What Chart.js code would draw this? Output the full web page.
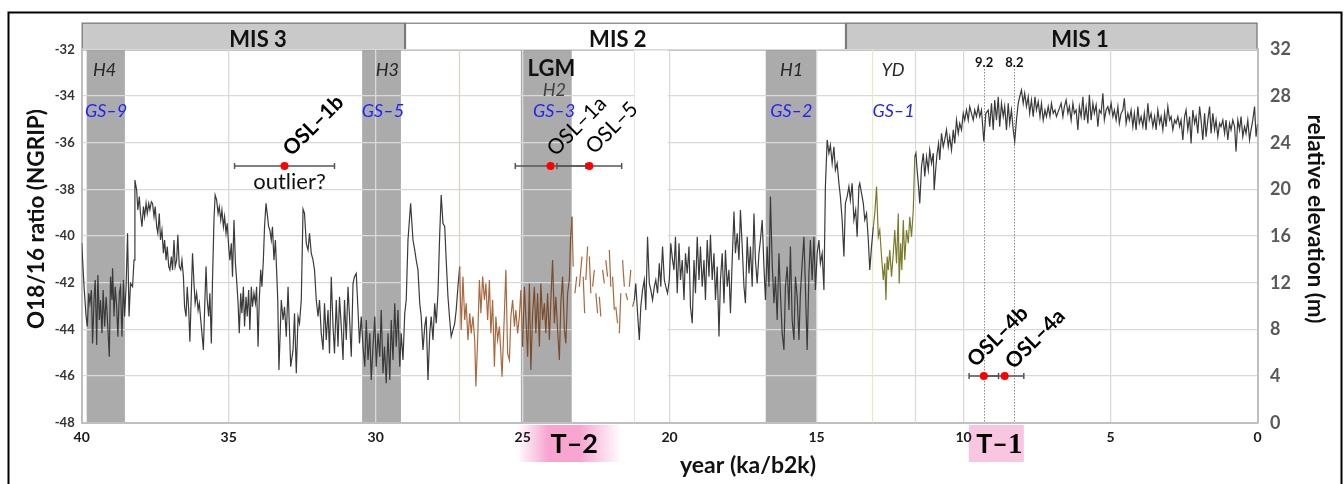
<!DOCTYPE html>
<html><head><meta charset="utf-8">
<script src="https://cdn.jsdelivr.net/npm/chart.js@4.4.1/dist/chart.umd.min.js"></script>
<style>html,body{margin:0;padding:0;background:#fff;overflow:hidden}canvas{display:block}</style>
</head><body>
<canvas id="c" width="1344" height="484"></canvas>
<script>
// NGRIP d18O record: [age ka b2k, d18O permil]
const ngripRecord = [
[40.00,-40.3],[39.92,-42.17],[39.85,-43.45],[39.81,-43.88],[39.76,-42.45],[39.72,-42.88],[39.67,-42.31],[39.63,-44.60],[39.58,-42.74],[39.54,-41.88],[39.49,-44.67],[39.45,-41.67],[39.40,-43.60],[39.36,-42.74],[39.31,-44.17],[39.27,-42.31],[39.22,-43.88],[39.17,-42.60],[39.13,-43.45],[39.06,-45.17],[39.02,-41.74],[38.97,-42.74],[38.95,-41.38],[38.90,-43.45],[38.86,-42.17],[38.81,-43.03],[38.77,-44.31],[38.72,-42.45],[38.68,-42.17],[38.63,-44.31],[38.58,-41.88],[38.54,-43.45],[38.49,-42.17],[38.44,-39.88],[38.39,-43.45],[38.34,-42.03],[38.27,-42.17],[38.22,-41.03],
[38.19,-37.60],[38.13,-38.03],[38.09,-38.88],[38.04,-38.31],[38.00,-39.03],[37.95,-39.60],[37.90,-38.74],[37.86,-39.17],[37.81,-38.60],[37.77,-39.03],[37.72,-38.60],[37.68,-38.88],[37.63,-38.53],[37.59,-38.60],[37.54,-39.17],[37.50,-38.74],[37.45,-39.60],[37.41,-39.88],[37.36,-39.03],[37.32,-40.17],[37.27,-39.74],[37.22,-40.74],[37.18,-40.17],[37.13,-41.03],[37.09,-40.45],[37.04,-41.31],[37.00,-41.45],[36.95,-40.88],[36.91,-41.45],[36.86,-40.17],[36.82,-41.31],[36.77,-41.03],[36.73,-39.95],[36.68,-41.31],[36.63,-41.45],[36.59,-41.03],[36.54,-41.74],[36.50,-43.03],[36.45,-43.45],[36.41,-42.17],[36.36,-43.17],[36.32,-44.53],[36.27,-42.45],[36.23,-40.74],[36.18,-42.03],[36.14,-42.88],[36.09,-42.45],[36.04,-43.17],[36.00,-42.88],[35.95,-43.60],[35.91,-44.17],[35.86,-44.88],[35.82,-43.17],[35.77,-41.31],[35.73,-42.74],[35.68,-43.45],[35.64,-42.45],[35.59,-44.60],[35.55,-41.88],
[35.50,-39.31],[35.46,-38.24],[35.41,-38.45],[35.36,-39.03],[35.32,-38.74],[35.27,-39.31],[35.23,-38.88],[35.18,-39.60],[35.14,-39.17],[35.09,-39.88],[35.05,-39.45],[35.00,-40.45],[34.96,-41.03],[34.91,-40.31],[34.87,-41.74],[34.82,-39.31],[34.77,-41.17],[34.73,-41.88],[34.68,-42.88],[34.64,-44.17],[34.59,-42.45],[34.55,-43.31],[34.50,-42.17],[34.46,-43.88],[34.41,-42.60],[34.37,-43.45],[34.32,-42.31],[34.28,-44.03],[34.23,-42.17],[34.19,-43.03],[34.14,-42.45],[34.09,-42.88],[34.05,-42.17],[34.00,-44.74],[33.96,-42.74],[33.91,-41.45],[33.87,-42.17],[33.82,-41.03],
[33.78,-39.60],[33.73,-38.60],[33.69,-39.03],[33.64,-39.60],[33.60,-39.74],[33.55,-40.17],[33.51,-39.60],[33.46,-41.03],[33.41,-40.17],[33.37,-41.45],[33.33,-42.74],
[33.29,-45.74],[33.21,-42.74],[33.15,-43.60],[33.10,-43.03],[33.04,-44.31],[32.98,-42.17],[32.89,-45.60],[32.81,-44.88],[32.76,-43.31],[32.70,-45.88],[32.64,-43.45],[32.59,-43.74],[32.53,-42.74],
[32.47,-38.85],[32.42,-39.03],[32.36,-40.31],[32.30,-40.60],[32.25,-39.88],[32.19,-40.74],[32.13,-41.03],[32.08,-41.45],[32.02,-42.74],[31.96,-43.45],[31.91,-42.74],[31.85,-44.17],[31.79,-44.88],[31.74,-42.88],[31.68,-44.45],[31.62,-43.17],[31.57,-45.03],[31.51,-41.74],[31.45,-43.88],[31.40,-45.03],[31.34,-42.74],[31.28,-44.74],[31.23,-42.60],[31.17,-43.88],[31.11,-45.31],[31.06,-42.74],[31.00,-44.45],[30.94,-42.17],[30.89,-43.45],[30.83,-45.17],[30.77,-42.03],[30.72,-41.74],[30.66,-41.60],[30.60,-43.17],[30.55,-44.60],[30.49,-43.45],[30.43,-44.74],[30.37,-45.60],[30.32,-43.60],[30.26,-45.31],[30.20,-44.17],[30.15,-46.17],[30.09,-44.74],[30.03,-43.45],[29.98,-45.60],[29.92,-44.17],[29.86,-45.17],[29.81,-43.17],[29.75,-45.88],[29.70,-44.74],[29.64,-46.31],[29.58,-44.17],[29.52,-46.17],[29.47,-43.60],[29.41,-45.31],[29.35,-42.88],[29.30,-44.74],[29.24,-43.17],[29.18,-45.60],[29.13,-44.17],[29.07,-45.31],[29.01,-43.31],[28.96,-42.74],
[28.90,-40.17],[28.81,-38.60],[28.73,-40.17],[28.67,-40.60],[28.62,-41.03],[28.56,-41.45],[28.50,-42.88],[28.45,-43.45],[28.39,-44.88],[28.33,-43.88],[28.28,-43.45],[28.22,-46.17],[28.16,-44.17],[28.11,-43.45],[28.05,-44.45],[27.99,-42.88],[27.94,-43.74],[27.88,-42.45],
[27.82,-39.88],[27.77,-38.24],[27.71,-39.45],[27.65,-39.60],[27.60,-41.03],[27.54,-42.60],[27.48,-43.60],[27.43,-44.31],[27.37,-44.03],[27.31,-43.74],[27.26,-43.17],[27.20,-42.17],[27.14,-41.31],[27.09,-44.03],[27.03,-41.74],[26.97,-43.60],[26.92,-42.88],[26.86,-44.45],[26.80,-43.31],[26.75,-44.17],[26.69,-43.45],[26.63,-44.45],
[26.59,-46.45],[26.53,-44.45],[26.47,-41.88],[26.42,-43.31],[26.36,-41.74],[26.30,-42.74],[26.25,-42.03],[26.19,-43.60],[26.13,-41.88],[26.08,-44.17],[26.02,-42.74],[25.96,-45.60],[25.91,-43.45],[25.85,-44.45],[25.79,-43.88],[25.74,-45.03],[25.70,-46.03],[25.62,-43.31],[25.57,-41.45],[25.51,-45.03],[25.45,-45.31],[25.40,-43.45],[25.34,-42.74],[25.28,-43.88],[25.23,-43.17],[25.17,-44.17],[25.11,-43.45],[25.06,-42.31],[25.00,-44.74],[24.94,-42.17],[24.89,-43.45],[24.83,-45.17],[24.77,-42.03],[24.72,-45.74],[24.66,-43.31],[24.60,-42.17],[24.55,-44.17],[24.49,-42.45],[24.43,-44.74],[24.38,-42.03],[24.32,-43.60],[24.26,-42.88],[24.21,-44.17],[24.15,-42.45],[24.09,-44.45],[24.04,-42.74],[23.98,-41.03],[23.92,-43.74],[23.87,-42.60],[23.81,-44.03],[23.75,-45.31],[23.70,-42.88],[23.64,-41.74],[23.58,-44.03],[23.53,-44.60],[23.47,-42.45],[23.41,-41.88],[23.37,-40.17],[23.32,-39.17],
[23.28,-41.31],[23.22,-42.45],[23.16,-41.74],[23.07,-42.17],[22.98,-40.88],[22.94,-41.74],[22.89,-43.31],[22.85,-41.88],[22.79,-40.45],[22.73,-40.88],[22.68,-42.45],[22.62,-42.17],[22.56,-41.45],[22.51,-42.45],[22.45,-43.31],[22.39,-42.60],[22.34,-43.45],[22.28,-41.45],[22.22,-42.03],[22.17,-41.03],[22.11,-41.74],[22.05,-40.60],[22.00,-42.17],[21.94,-41.74],[21.88,-43.17],[21.83,-43.03],[21.77,-43.74],[21.71,-44.17],[21.66,-42.45],[21.60,-41.03],[21.54,-42.17],[21.49,-42.45],[21.43,-42.74],[21.37,-42.17],[21.32,-41.45],[21.26,-43.03],
[21.20,-42.74],[21.15,-42.03],[21.09,-43.31],[21.03,-44.45],[20.98,-43.03],[20.92,-42.31],[20.86,-41.88],[20.81,-43.17],[20.75,-40.03],[20.69,-42.03],[20.64,-42.31],[20.58,-42.74],[20.52,-42.17],[20.47,-41.88],[20.41,-42.45],[20.35,-41.17],[20.30,-42.17],[20.24,-40.45],[20.18,-41.88],[20.13,-42.17],[20.07,-42.45],[20.01,-41.88],[19.96,-40.31],[19.90,-41.03],
[19.85,-41.45],[19.80,-40.03],[19.74,-42.45],[19.68,-40.31],[19.63,-41.88],[19.57,-41.03],[19.51,-42.74],[19.46,-40.74],[19.40,-41.60],[19.34,-40.45],[19.29,-43.03],[19.23,-43.74],[19.17,-41.03],[19.12,-42.45],[19.06,-40.03],[19.00,-41.88],[18.95,-40.45],[18.89,-42.17],[18.83,-41.03],[18.78,-42.74],[18.72,-40.17],[18.66,-41.74],[18.61,-39.95],[18.55,-41.88],[18.49,-40.74],[18.44,-42.74],[18.38,-41.31],[18.32,-44.31],[18.27,-41.88],[18.21,-40.74],[18.15,-42.88],[18.10,-40.60],[18.04,-42.17],[17.98,-41.45],[17.93,-43.31],[17.87,-41.03],[17.81,-38.95],[17.76,-40.74],[17.70,-39.88],[17.64,-41.03],[17.59,-38.88],[17.53,-40.45],[17.47,-42.17],[17.42,-42.88],[17.36,-40.03],[17.30,-41.60],[17.25,-40.45],[17.19,-42.17],[17.13,-39.03],[17.08,-41.03],[17.02,-42.03],[16.96,-40.74],[16.91,-40.17],[16.85,-39.31],[16.79,-41.31],[16.74,-42.74],[16.68,-40.45],[16.62,-42.17],[16.57,-38.31],[16.51,-41.17],[16.45,-42.88],[16.40,-41.74],[16.34,-43.60],[16.28,-40.74],[16.23,-42.45],[16.17,-44.17],[16.11,-44.88],[16.06,-42.17],[16.00,-41.31],[15.94,-43.17],[15.89,-40.45],[15.83,-43.60],[15.77,-44.45],[15.72,-41.74],[15.66,-42.60],[15.60,-44.45],[15.55,-42.45],[15.49,-41.17],[15.43,-40.03],[15.38,-42.17],[15.32,-44.88],[15.26,-41.60],[15.21,-40.17],[15.15,-41.88],[15.09,-40.03],[15.04,-42.31],[14.98,-40.74],[14.92,-40.17],[14.87,-41.17],[14.81,-40.74],[14.75,-42.31],
[14.70,-37.88],[14.64,-35.88],[14.58,-36.45],[14.53,-36.10],[14.47,-36.88],[14.41,-36.17],[14.36,-37.17],[14.30,-36.88],[14.24,-37.74],[14.19,-38.31],[14.13,-39.31],[14.07,-40.88],[14.02,-38.60],[13.96,-38.31],[13.90,-37.88],[13.85,-38.45],[13.79,-37.74],[13.73,-39.31],[13.67,-38.88],[13.62,-40.03],[13.56,-37.88],
[13.53,-37.74],[13.47,-38.17],[13.41,-38.60],[13.36,-39.31],[13.30,-39.03],[13.24,-40.17],[13.19,-41.45],[13.13,-40.45],[13.07,-39.60],[13.02,-39.03],[12.96,-37.88],[12.90,-40.03],[12.85,-39.74],[12.79,-40.88],[12.73,-41.88],[12.68,-41.17],[12.64,-42.74],[12.60,-40.88],[12.56,-41.45],[12.51,-40.60],[12.45,-41.74],[12.39,-40.74],[12.34,-39.74],[12.28,-41.17],[12.22,-39.03],[12.19,-42.03],[12.14,-40.31],[12.10,-41.45],[12.05,-39.31],[12.00,-41.03],[11.94,-39.74],[11.88,-40.31],[11.83,-39.17],[11.77,-40.03],[11.71,-38.88],
[11.66,-36.60],[11.62,-36.45],[11.58,-37.17],[11.53,-37.88],[11.49,-38.60],[11.43,-37.03],[11.37,-36.45],[11.32,-37.45],[11.26,-36.60],[11.20,-37.17],[11.15,-36.31],[11.09,-36.88],[11.03,-36.45],[11.00,-38.03],[10.94,-37.03],[10.90,-36.45],[10.85,-36.03],[10.81,-36.74],[10.75,-35.60],[10.69,-36.17],[10.64,-35.88],[10.58,-35.45],[10.52,-36.17],[10.47,-35.74],[10.41,-36.31],[10.35,-35.45],[10.30,-36.03],[10.24,-35.03],[10.18,-35.60],[10.13,-35.17],[10.07,-35.45],[10.01,-34.74],[9.96,-35.03],[9.90,-34.60],[9.84,-35.03],[9.79,-34.45],[9.73,-34.74],[9.67,-35.03],[9.62,-34.60],[9.56,-34.88],[9.50,-34.45],[9.45,-34.88],[9.39,-34.60],[9.31,-35.95],[9.24,-34.74],[9.16,-34.60],[9.11,-35.31],[9.05,-34.31],[8.99,-35.45],[8.94,-34.17],[8.88,-35.03],[8.82,-34.03],[8.77,-35.31],[8.71,-34.31],[8.65,-34.88],[8.60,-34.45],[8.54,-35.45],[8.48,-34.31],[8.43,-35.17],[8.37,-34.60],[8.31,-35.45],[8.26,-35.95],[8.20,-35.03],[8.14,-34.31],[8.09,-34.03],[8.03,-33.74],[7.97,-34.31],[7.92,-33.88],[7.86,-34.45],[7.80,-34.03],[7.75,-34.74],[7.69,-34.17],[7.63,-34.88],[7.57,-34.03],[7.52,-34.60],[7.46,-34.24],[7.40,-34.88],[7.35,-34.31],[7.29,-35.03],[7.23,-34.60],[7.18,-34.88],[7.12,-34.45],[7.06,-34.88],[7.01,-34.31],[6.95,-34.74],[6.89,-34.60],[6.84,-34.88],
[6.68,-34.31],[6.62,-34.88],[6.57,-34.45],[6.51,-34.17],[6.45,-34.74],[6.40,-34.45],[6.34,-35.03],[6.28,-34.31],[6.23,-34.74],[6.17,-34.60],[6.11,-35.45],[6.06,-34.45],[6.00,-34.88],[5.94,-34.03],[5.89,-35.03],[5.83,-34.45],[5.77,-35.17],[5.72,-33.95],[5.66,-35.03],[5.60,-34.31],[5.55,-34.74],[5.49,-34.38],[5.43,-35.31],[5.38,-34.60],[5.32,-34.74],[5.26,-33.88],[5.21,-35.03],[5.15,-34.60],[5.09,-34.45],[5.04,-34.74],[4.98,-34.31],[4.92,-34.88],[4.87,-34.60],[4.81,-35.03],[4.75,-34.45],[4.70,-35.17],[4.64,-34.74],[4.58,-34.60],[4.53,-34.10],[4.47,-35.17],[4.41,-34.74],[4.36,-35.03],[4.30,-34.60],[4.24,-35.31],[4.19,-34.74],[4.13,-35.45],[4.07,-34.45],[4.02,-35.17],[3.96,-34.88],[3.90,-35.31],[3.85,-34.74],[3.79,-35.45],[3.73,-34.31],[3.68,-35.03],[3.62,-34.74],[3.56,-35.31],[3.50,-34.88],[3.45,-35.45],[3.39,-34.60],[3.33,-35.17],[3.28,-34.88],[3.22,-35.45],[3.16,-34.74],[3.11,-35.31],[3.05,-34.45],[2.99,-35.03],[2.94,-34.88],[2.88,-35.45],[2.82,-35.03],[2.77,-35.17],[2.71,-34.88],[2.65,-35.31],[2.60,-35.03],[2.54,-35.88],[2.48,-34.88],[2.43,-34.60],[2.37,-35.45],[2.31,-34.88],[2.26,-36.03],[2.20,-34.60],[2.14,-35.17],[2.09,-34.88],[2.03,-35.60],[1.97,-34.45],[1.92,-35.03],[1.86,-35.88],[1.80,-34.74],[1.75,-35.74],[1.69,-35.03],[1.63,-34.45],[1.58,-35.60],[1.52,-34.74],[1.46,-35.45],[1.41,-35.03],[1.35,-35.74],[1.29,-35.17],[1.24,-35.31],[1.18,-35.03],[1.12,-35.60],[1.07,-35.03],[1.01,-35.88],[0.95,-35.17],[0.90,-35.45],[0.84,-35.03],[0.78,-35.31],[0.73,-36.38],[0.67,-35.03],[0.61,-35.45],[0.56,-34.88],[0.50,-35.74],[0.44,-35.31],[0.39,-35.60],[0.33,-35.03],[0.27,-35.88],[0.22,-35.45],[0.16,-35.03],[0.10,-34.45],[0.05,-35.74],[0.00,-35.2]
];

// Heinrich / Greenland stadial bands (ka)
const heinrichBands = [[39.83,38.53],[30.46,29.14],[25.06,23.33],[16.73,15.0]];
const heinrichNames = ['H4','H3','H2','H1'];
const stadialNames = ['GS–9','GS–5','GS–3','GS–2'];
const youngerDryas = [13.1, 11.65];
// Marine isotope stages
const misNames = ['MIS 3','MIS 2','MIS 1'];
const misBounds = [[40,29],[29,14],[14,0]];
// OSL dates
const oslNames = ['OSL–1b','OSL–1a','OSL–5','OSL–4b','OSL–4a'];
const oslAge = [33.1, 24.05, 22.73, 9.31, 8.6];
const oslErr = [1.7, 1.2, 1.1, 0.5, 0.65];
const oslElevation = [22, 22, 22, 4, 4];
// cold events
const eventAges = [9.3, 8.27];
const eventNames = ['9.2','8.2'];
// terminations
const termNames = ['T–2','T–1'];
const termBounds = [[25.2,21.63],[9.82,7.95]];

const FONT = 'Lato, "Open Sans", sans-serif';
Chart.defaults.font.family = FONT;

function font(w, s, it){ return (it?'italic ':'') + w + ' ' + s + 'px ' + FONT; }

const deco = {
  id: 'deco',
  beforeDraw(chart) {
    const {ctx, chartArea: ca, scales: {x}} = chart;
    ctx.save();
    ctx.fillStyle = '#fff';
    ctx.fillRect(0, 0, chart.width, chart.height);
    ctx.fillStyle = '#ababab';
    heinrichBands.forEach(([a,b]) => {
      const x0 = x.getPixelForValue(a), x1 = x.getPixelForValue(b);
      ctx.fillRect(x0, ca.top, x1 - x0, ca.bottom - ca.top);
    });
    const barTop = 22.7;
    misBounds.forEach(([a,b], i) => {
      const x0 = x.getPixelForValue(a), x1 = x.getPixelForValue(b);
      ctx.fillStyle = i === 1 ? '#ffffff' : '#c9c9c9';
      ctx.fillRect(x0, barTop, x1 - x0, ca.top - barTop + 0.6);
      ctx.strokeStyle = '#7a7a7a'; ctx.lineWidth = 1.2;
      ctx.strokeRect(x0 + 0.5, barTop + 0.5, x1 - x0 - 1, ca.top - barTop);
    });
    termBounds.forEach(([a,b], i) => {
      const x0 = x.getPixelForValue(a), x1 = x.getPixelForValue(b);
      const y0 = ca.bottom + 2.3, h = 37;
      if (i === 0) {
        const g = ctx.createLinearGradient(x0, 0, x1, 0);
        g.addColorStop(0, 'rgba(247,160,206,0)');
        g.addColorStop(0.3, 'rgba(247,160,206,0.95)');
        g.addColorStop(0.6, 'rgba(247,160,206,0.95)');
        g.addColorStop(1, 'rgba(247,160,206,0)');
        ctx.fillStyle = g;
      } else {
        ctx.fillStyle = '#f9c6e1';
      }
      ctx.fillRect(x0, y0, x1 - x0, h);
    });
    ctx.restore();
  },
  beforeDatasetsDraw(chart) {
    const {ctx, chartArea: ca, scales: {x, y}} = chart;
    ctx.save();
    // pasted-image white patches
    ctx.fillStyle = '#fff';
    const p0 = x.getPixelForValue(23.33), p1 = x.getPixelForValue(20.03);
    ctx.fillRect(p0 + 0.5, y.getPixelForValue(-34.6), p1 - p0 - 1.5, y.getPixelForValue(-47.95) - y.getPixelForValue(-34.6));
    const q0 = x.getPixelForValue(21.2);
    ctx.fillRect(q0, ca.top + 1, p1 - q0 - 1, y.getPixelForValue(-34.6) - ca.top);
    // faint image edge lines
    [[27.15,'#e3cfc2'],[21.2,'#e6e6e6'],[youngerDryas[0],'#e9e9c4'],[youngerDryas[1],'#d9d9d9']].forEach(([a,c]) => {
      const px = Math.round(x.getPixelForValue(a)) + 0.5;
      ctx.strokeStyle = c; ctx.lineWidth = 1.2;
      ctx.beginPath(); ctx.moveTo(px, ca.top); ctx.lineTo(px, ca.bottom); ctx.stroke();
    });
    // cold events dotted
    ctx.strokeStyle = '#8c8c8c'; ctx.lineWidth = 1; ctx.setLineDash([1.5, 1.5]);
    eventAges.forEach(a => {
      const px = Math.round(x.getPixelForValue(a)) + 0.5;
      ctx.beginPath(); ctx.moveTo(px, 69); ctx.lineTo(px, ca.bottom); ctx.stroke();
    });
    ctx.restore();
  },
  beforeDatasetDraw(chart, args) {
    if (args.index !== 1) return;
    const {ctx, scales: {x, y2}} = chart;
    ctx.save();
    ctx.strokeStyle = '#555'; ctx.lineWidth = 1.5;
    oslAge.forEach((a, i) => {
      const xl = x.getPixelForValue(a + oslErr[i]), xr = x.getPixelForValue(a - oslErr[i]);
      const py = y2.getPixelForValue(oslElevation[i]);
      ctx.beginPath();
      ctx.moveTo(xl, py); ctx.lineTo(xr, py);
      ctx.moveTo(xl, py - 3); ctx.lineTo(xl, py + 3);
      ctx.moveTo(xr, py - 3); ctx.lineTo(xr, py + 3);
      ctx.stroke();
    });
    ctx.restore();
  },
  afterDraw(chart) {
    const {ctx, chartArea: ca, scales: {x, y2}} = chart;
    const X = v => x.getPixelForValue(v);
    ctx.save();
    ctx.textAlign = 'center'; ctx.textBaseline = 'alphabetic';
    // MIS labels
    const misLabelAt = [34.0, 21.76, 6.04];
    ctx.fillStyle = '#111'; ctx.font = font('bold', 22);
    misNames.forEach((n, i) => ctx.fillText(n, X(misLabelAt[i]), 46.5));
    // band labels
    const hAt = [39.22, 29.6, 23.9, 15.85];
    heinrichNames.forEach((n, i) => {
      if (i === 2) {
        ctx.fillStyle = '#111'; ctx.font = font('bold', 22);
        ctx.fillText('LGM', X(24.02), 75.5);
        ctx.fillStyle = '#404040'; ctx.font = font('normal', 18, true);
        ctx.fillText(n, X(23.92), 95.5);
      } else {
        ctx.fillStyle = '#262626'; ctx.font = font('normal', 18, true);
        ctx.fillText(n, X(hAt[i]), 75.5);
      }
    });
    ctx.fillStyle = '#262626'; ctx.font = font('normal', 18, true);
    ctx.fillText('YD', X(12.4), 75.5);
    ctx.fillStyle = '#1f1fff';
    const gsAt = [39.17, 29.75, 23.93, 15.86, 12.38];
    stadialNames.concat(['GS–1']).forEach((n, i) => ctx.fillText(n, X(gsAt[i]), 116.5));
    // event labels
    ctx.fillStyle = '#111'; ctx.font = font('bold', 13);
    eventNames.forEach((n, i) => ctx.fillText(n, X(eventAges[i]), 67));
    // OSL labels
    const oslAnchor = [[7,-9],[5,-9],[5,-11],[-8,-8],[9,-6]];
    const oslBold = [true, false, false, true, true];
    oslNames.forEach((n, i) => {
      const px = X(oslAge[i]) + oslAnchor[i][0], py = y2.getPixelForValue(oslElevation[i]) + oslAnchor[i][1];
      ctx.save();
      ctx.translate(px, py); ctx.rotate(-Math.PI / 4);
      ctx.textAlign = 'left'; ctx.fillStyle = '#000';
      ctx.font = font(oslBold[i] ? 'bold' : 'normal', 21);
      ctx.fillText(n, 0, 0);
      ctx.restore();
    });
    ctx.fillStyle = '#111'; ctx.font = font('normal', 22);
    ctx.fillText('outlier?', X(oslAge[0]) + 5, 189);
    // terminations
    ctx.fillStyle = '#000';
    ctx.font = font('bold', 27);
    ctx.fillText(termNames[0], X((termBounds[0][0] + termBounds[0][1]) / 2) + 5, 452.5);
    const tc = X((termBounds[1][0] + termBounds[1][1]) / 2) + 3;
    ctx.font = font('bold', 27);
    const w1 = ctx.measureText('T–').width;
    ctx.font = 'bold 29px "Liberation Serif", serif';
    const w2 = ctx.measureText('1').width;
    ctx.textAlign = 'left';
    ctx.font = font('bold', 27);
    ctx.fillText('T–', tc - (w1 + w2) / 2, 452.5);
    ctx.font = 'bold 29px "Liberation Serif", serif';
    ctx.fillText('1', tc - (w1 + w2) / 2 + w1, 452.5);
    // axis titles
    ctx.textAlign = 'center'; ctx.textBaseline = 'middle';
    ctx.fillStyle = '#111'; ctx.font = font('bold', 23);
    ctx.fillText('year (ka/b2k)', 748, 466);
    ctx.font = font('bold', 22.5);
    ctx.save(); ctx.translate(37, 219); ctx.rotate(-Math.PI / 2);
    ctx.fillText('O18/16 ratio (NGRIP)', 0, 0); ctx.restore();
    ctx.save(); ctx.translate(1315, 219); ctx.rotate(Math.PI / 2);
    ctx.fillText('relative elevation (m)', 0, 0); ctx.restore();
    // frame
    ctx.strokeStyle = '#000'; ctx.lineWidth = 2;
    ctx.strokeRect(8.5, 12.5, 1333, 490);
    ctx.restore();
  }
};

new Chart(document.getElementById('c'), {
  data: {
    datasets: [
      {
        type: 'line',
        data: ngripRecord.map(p => ({x: p[0], y: p[1]})),
        yAxisID: 'y',
        borderColor: '#3a3a3a',
        borderWidth: 1.2,
        pointRadius: 0,
        tension: 0,
        segment: {
          borderColor: c => {
            const a = c.p0.parsed.x;
            if (a <= 27.15 && a > 21.25) {
              if (a < 23.3 && c.p0DataIndex % 2 === 1) return 'rgba(0,0,0,0)';
              return a < 25.06 && a > 23.33 ? '#7a4c2c' : '#a8693f';
            }
            if (a <= 13.1 && a > 11.68) return '#7a7a2c';
            return '#3a3a3a';
          }
        }
      },
      {
        type: 'scatter',
        data: oslAge.map((a, i) => ({x: a, y: oslElevation[i]})),
        yAxisID: 'y2',
        backgroundColor: '#ff0000',
        borderWidth: 0,
        pointRadius: 4
      }
    ]
  },
  options: {
    responsive: false,
    animation: false,
    events: [],
    layout: { padding: { top: 49.4, left: 0, right: 0, bottom: 0 } },
    plugins: { legend: { display: false }, tooltip: { enabled: false } },
    scales: {
      x: {
        type: 'linear', reverse: true, min: 0, max: 40, position: 'bottom',
        ticks: { stepSize: 5, color: '#1a1a1a', font: { weight: 'bold', size: 14 }, padding: 6, maxRotation: 0 },
        grid: { color: '#d9d9d9', lineWidth: 1.3, drawTicks: false },
        border: { color: '#bfbfbf', width: 2 },
        afterFit: s => { s.height = 61.3; }
      },
      y: {
        type: 'linear', min: -48, max: -32, position: 'left',
        ticks: { stepSize: 2, color: '#333', font: { weight: 'bold', size: 13 }, padding: 7 },
        grid: { color: '#d9d9d9', lineWidth: 1.3, drawTicks: false },
        border: { color: '#bfbfbf', width: 2 },
        afterFit: s => { s.width = 81.7; }
      },
      y2: {
        type: 'linear', min: 0, max: 32, position: 'right',
        ticks: { stepSize: 4, color: '#595959', font: { weight: 'bold', size: 18 }, padding: 12.5 },
        grid: { display: false, drawTicks: false },
        border: { color: '#bfbfbf', width: 2 },
        afterFit: s => { s.width = 86.5; }
      }
    }
  },
  plugins: [deco]
});
</script>
</body></html>
